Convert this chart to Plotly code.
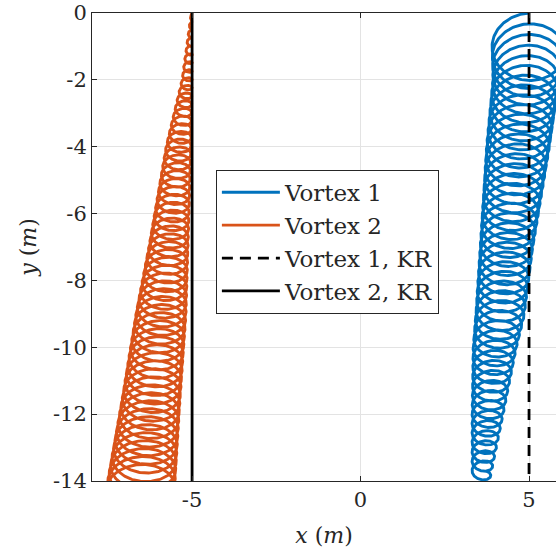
import numpy as np
import plotly.graph_objects as go

# Vortex 1 path: loop-centre depth (m), loop-centre x (m), loop radius (m)
v1_depth = [-0.95, -2.0, -4.0, -7.0, -9.0, -10.0, -12.0, -13.9]
v1_cx = [5.00, 4.91, 4.67, 4.33, 4.14, 3.98, 3.77, 3.58]
v1_r = [1.10, 0.98, 0.93, 0.78, 0.72, 0.64, 0.46, 0.27]
v1_aspect = [0.86, 0.82, 0.78, 0.74, 0.72, 0.72, 0.72, 0.72]
v1_loops = 46

# Vortex 2 path
v2_depth = [0.0, -2.0, -4.0, -7.0, -9.0, -11.6, -14.4]
v2_cx = [-5.015, -5.15, -5.40, -5.70, -5.92, -6.22, -6.55]
v2_r = [0.015, 0.15, 0.37, 0.58, 0.74, 0.86, 1.02]
v2_aspect = [0.7, 0.7, 0.7, 0.7, 0.7, 0.7, 0.7]
v2_loops = 58

# Straight descent reference (KR)
kr1_x = [5, 5]
kr2_x = [-5, -5]
kr_y = [0, -14]

x_ticks = [-5, 0, 5]
x_tick_text = ["-5", "0", "5"]
y_ticks = [0, -2, -4, -6, -8, -10, -12, -14]
y_tick_text = ["0", "-2", "-4", "-6", "-8", "-10", "-12", "-14"]

BLUE = "#0072BD"
ORANGE = "#D95319"
FONT = "DejaVu Serif"


def looping_path(depth, cx, r, aspect, loops, phase):
    s = np.linspace(0.0, 1.0, loops * 160 + 1)
    yc = depth[0] + (depth[-1] - depth[0]) * s
    c = np.interp(yc, depth[::-1], cx[::-1])
    rad = np.interp(yc, depth[::-1], r[::-1])
    asp = np.interp(yc, depth[::-1], aspect[::-1])
    th = phase + 2 * np.pi * loops * s
    return c + rad * np.cos(th), yc + asp * rad * np.sin(th)


x1, y1 = looping_path(v1_depth, v1_cx, v1_r, v1_aspect, v1_loops, np.pi / 2)
x2, y2 = looping_path(v2_depth, v2_cx, v2_r, v2_aspect, v2_loops, 0.0)

fig = go.Figure()
fig.add_trace(go.Scatter(x=x1, y=y1, mode="lines", name="Vortex 1",
                         line=dict(color=BLUE, width=2.9)))
fig.add_trace(go.Scatter(x=x2, y=y2, mode="lines", name="Vortex 2",
                         line=dict(color=ORANGE, width=2.9)))
fig.add_trace(go.Scatter(x=kr1_x, y=kr_y, mode="lines", name="Vortex 1, KR",
                         line=dict(color="black", width=2.8, dash="11px,7px")))
fig.add_trace(go.Scatter(x=kr2_x, y=kr_y, mode="lines", name="Vortex 2, KR",
                         line=dict(color="black", width=2.8)))

axis_common = dict(
    showgrid=True, gridcolor="#e3e3e3", gridwidth=1,
    showline=True, linecolor="#262626", linewidth=1,
    ticks="inside", ticklen=5, tickcolor="#262626",
    tickfont=dict(family=FONT, size=21, color="#262626"),
    zeroline=False,
)

fig.update_layout(
    width=556, height=558,
    margin=dict(l=92, r=0, t=13, b=77),
    plot_bgcolor="white", paper_bgcolor="white",
    font=dict(family=FONT, size=21, color="#262626"),
    showlegend=True,
    legend=dict(
        x=0.267, y=0.665, xanchor="left", yanchor="top",
        bgcolor="white", bordercolor="#262626", borderwidth=1,
        itemwidth=58,
        font=dict(family=FONT, size=23, color="#262626"),
    ),
    xaxis=dict(
        range=[-7.97, 5.80], tickvals=x_ticks, ticktext=x_tick_text,
        mirror="ticks",
        title=dict(text="<i>x</i> (<i>m</i>)", font=dict(family=FONT, size=22),
                   standoff=16),
        **axis_common,
    ),
    yaxis=dict(
        range=[-14, 0], tickvals=y_ticks, ticktext=y_tick_text,
        title=dict(text="<i>y</i> (<i>m</i>)", font=dict(family=FONT, size=22),
                   standoff=10),
        **axis_common,
    ),
)

fig.write_html("out.html")
